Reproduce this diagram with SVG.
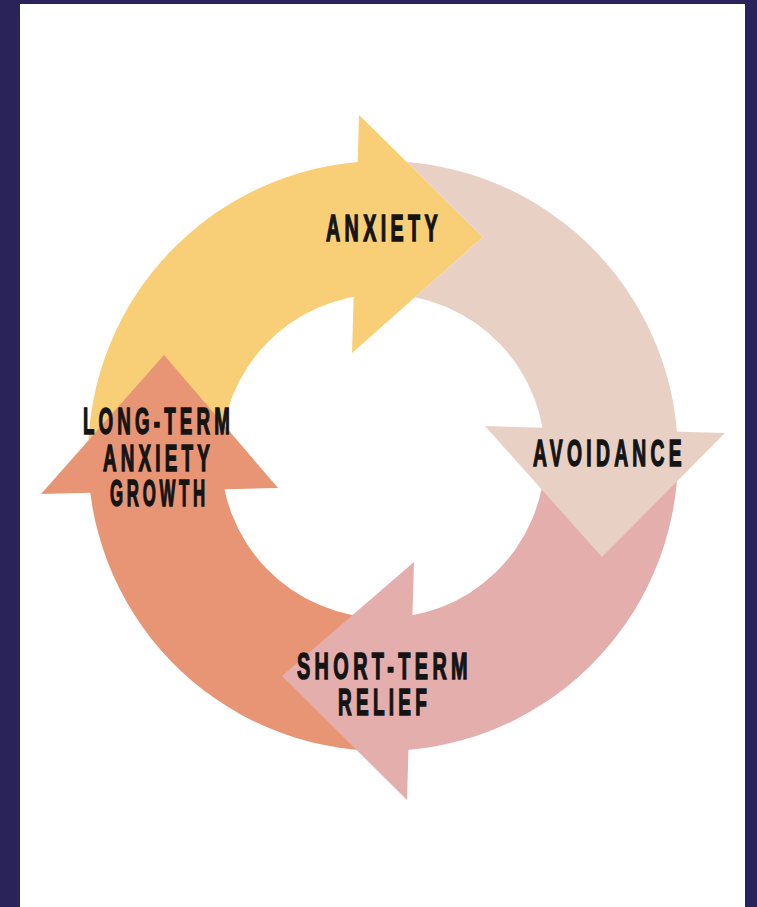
<svg xmlns="http://www.w3.org/2000/svg" width="757" height="907" viewBox="0 0 757 907">
<style>
.lbl{font-family:"Liberation Sans",Arial,sans-serif;font-weight:700;font-size:36px;letter-spacing:8px;fill:#141414;stroke:#141414;stroke-width:1.5px}
.anx{fill:#F8CF76}
.avo{fill:#E8D0C4}
.rel{fill:#E4AEAD}
.ltg{fill:#E89575}
</style>
<defs>
<clipPath id="cutAnxHead">
<path clip-rule="evenodd" d="M0 0H757V907H0Z M359 115 L483 237 L352 353 Z"/>
</clipPath>
</defs>
<rect x="0" y="0" width="757" height="907" fill="#29235A"/>
<rect x="20" y="4" width="725" height="903" fill="#FFFFFF"/>
<g id="connectors"></g>
<g id="anxiety">
<path class="anx" d="M88 456 A295 295 0 0 1 372.7 161.18 L377.35 294.1 A162 162 0 0 0 221 456 Z"/>
<path class="anx" d="M359 115 L483 237 L352 353 Z"/>
<text class="lbl" x="326" y="241" textLength="116" lengthAdjust="spacingAndGlyphs">ANXIETY</text>
</g>
<g id="long-term-anxiety-growth">
<path class="ltg" d="M383 751 A295 295 0 0 1 88.18 445.7 L221.1 450.35 A162 162 0 0 0 383 618 Z"/>
<path class="ltg" d="M164 355 L278 488 L41 494 Z"/>
<text class="lbl" x="83" y="434" textLength="151" lengthAdjust="spacingAndGlyphs">LONG-TERM</text>
<text class="lbl" x="103" y="471" textLength="111" lengthAdjust="spacingAndGlyphs">ANXIETY</text>
<text class="lbl" x="110" y="506" textLength="99" lengthAdjust="spacingAndGlyphs">GROWTH</text>
</g>
<g id="short-term-relief">
<path class="rel" d="M678 456 A295 295 0 0 1 372.7 750.82 L377.35 617.9 A162 162 0 0 0 545 456 Z"/>
<path class="rel" d="M414 562 L407 800 L282 676 Z"/>
<text class="lbl" x="297" y="679" textLength="175" lengthAdjust="spacingAndGlyphs">SHORT-TERM</text>
<text class="lbl" x="338" y="715" textLength="93" lengthAdjust="spacingAndGlyphs">RELIEF</text>
</g>
<g id="avoidance">
<path class="avo" clip-path="url(#cutAnxHead)" d="M383 161 A295 295 0 0 1 677.82 466.3 L544.9 461.65 A162 162 0 0 0 383 294 Z"/>
<path class="avo" d="M485 426 L725 433 L602 557 Z"/>
<text class="lbl" x="533" y="466" textLength="153" lengthAdjust="spacingAndGlyphs">AVOIDANCE</text>
</g>
</svg>
